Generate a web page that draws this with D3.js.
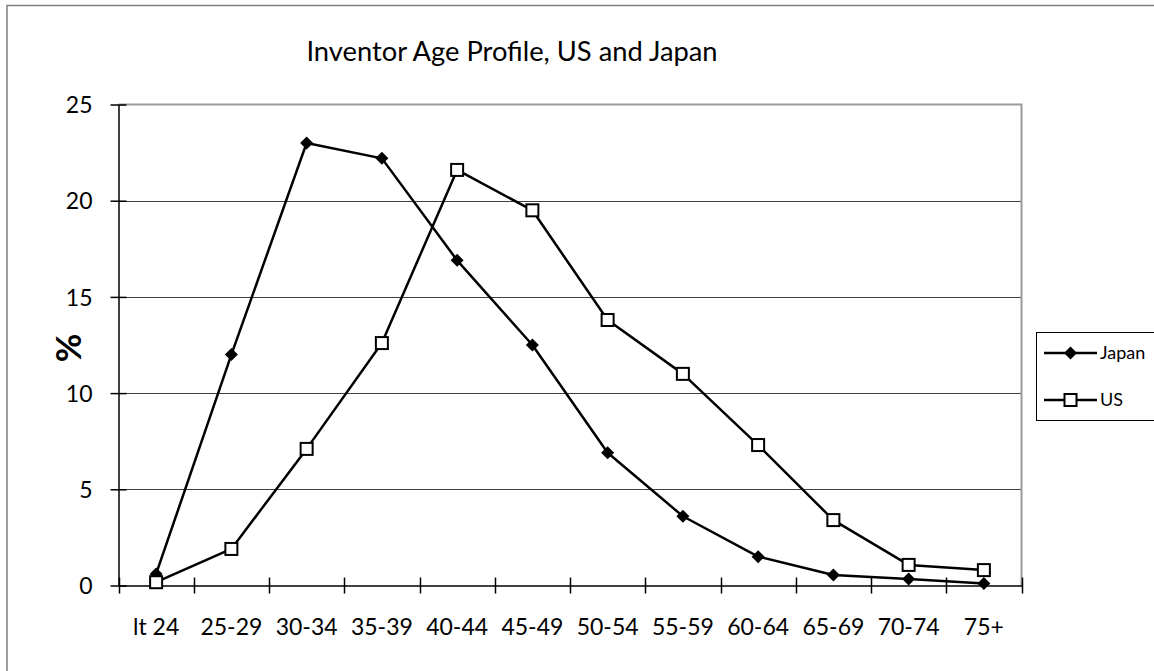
<!DOCTYPE html>
<html>
<head>
<meta charset="utf-8">
<script src="https://cdn.jsdelivr.net/npm/d3@7"></script>
<style>
  html, body { margin: 0; padding: 0; background: #fff; }
  svg { display: block; }
  text { font-family: Lato, "Open Sans", sans-serif; fill: #000; }
</style>
</head>
<body>
<svg id="chart" width="1154" height="671"></svg>
<script>
const categories = ["lt 24", "25-29", "30-34", "35-39", "40-44", "45-49", "50-54", "55-59", "60-64", "65-69", "70-74", "75+"];
const japan = [0.6, 12.0, 23.0, 22.2, 16.9, 12.5, 6.9, 3.6, 1.5, 0.55, 0.34, 0.11];
const us = [0.17, 1.9, 7.1, 12.6, 21.6, 19.5, 13.8, 11.0, 7.3, 3.4, 1.07, 0.8];
const yTicks = [0, 5, 10, 15, 20, 25];
const seriesNames = ["Japan", "US"];
const titleText = "Inventor Age Profile, US and Japan";
const yLabel = "%";

(function () {
const svg = d3.select("#chart");
const mLeft = 118.5, mRight = 1021.5, mTop = 104.5, mBottom = 585.5;

// outer chart border
svg.append("rect").attr("x", 7).attr("y", 5.5).attr("width", 1160).attr("height", 700)
  .attr("fill", "none").attr("stroke", "#7f7f7f").attr("stroke-width", 1.5);

const x = d3.scaleBand().domain(categories).range([mLeft, mRight]).padding(0);
const y = d3.scaleLinear().domain([0, 25]).range([mBottom, mTop]);

// gridlines
svg.append("g").selectAll("line").data(yTicks.filter(d => d > 0 && d < 25)).join("line")
  .attr("x1", mLeft).attr("x2", mRight)
  .attr("y1", d => Math.round(y(d)) + 0.5).attr("y2", d => Math.round(y(d)) + 0.5)
  .attr("stroke", "#404040").attr("stroke-width", 1.2);

// plot area top & right border (gray)
svg.append("path")
  .attr("d", `M${mLeft},${y(25)}H${mRight}V${mBottom}`)
  .attr("fill", "none").attr("stroke", "#9a9a9a").attr("stroke-width", 2);

// y axis
const yAxis = d3.axisLeft(y).tickValues(yTicks).tickSizeInner(8).tickSizeOuter(0).tickPadding(18);
const gy = svg.append("g").attr("transform", `translate(${mLeft},0)`).call(yAxis);
gy.select(".domain").attr("stroke", "#000").attr("stroke-width", 1.5);
gy.selectAll(".tick line").attr("x2", 8).attr("x1", -8).attr("stroke", "#000").attr("stroke-width", 1.5);
gy.selectAll(".tick text").style("font-family", "Lato, sans-serif").style("font-size", "23px").attr("x", -26).attr("dy", "0.36em");

// x axis with ticks at category boundaries
const xAxis = d3.axisBottom(x).tickSize(0).tickPadding(40);
const gx = svg.append("g").attr("transform", `translate(0,${mBottom})`).call(xAxis);
gx.select(".domain").attr("stroke", "#000").attr("stroke-width", 1.5);
gx.selectAll(".tick text").style("font-family", "Lato, sans-serif").style("font-size", "23px").attr("dy", "0.4em");
const boundaries = categories.map(c => x(c)).concat([x(categories[categories.length - 1]) + x.bandwidth()]);
gx.append("g").selectAll("line").data(boundaries).join("line")
  .attr("x1", d => Math.round(d) + 0.5).attr("x2", d => Math.round(d) + 0.5)
  .attr("y1", -8).attr("y2", 8).attr("stroke", "#000").attr("stroke-width", 1.5);

const cx = c => x(c) + x.bandwidth() / 2;
const line = d3.line().x(d => cx(d.c)).y(d => y(d.v));
const jData = categories.map((c, i) => ({ c, v: japan[i] }));
const uData = categories.map((c, i) => ({ c, v: us[i] }));

svg.append("path").datum(jData).attr("d", line).attr("fill", "none").attr("stroke", "#000").attr("stroke-width", 2.5).attr("stroke-linejoin", "round");
svg.append("path").datum(uData).attr("d", line).attr("fill", "none").attr("stroke", "#000").attr("stroke-width", 2.5).attr("stroke-linejoin", "round");

const diamond = s => `M0,${-s}L${s},0L0,${s}L${-s},0Z`;
svg.append("g").selectAll("path").data(jData).join("path")
  .attr("transform", d => `translate(${cx(d.c)},${y(d.v)})`)
  .attr("d", diamond(6.5)).attr("fill", "#000");
svg.append("g").selectAll("rect").data(uData).join("rect")
  .attr("x", d => cx(d.c) - 6).attr("y", d => y(d.v) - 6)
  .attr("width", 12).attr("height", 12)
  .attr("fill", "#fff").attr("stroke", "#000").attr("stroke-width", 2);

// title
svg.append("text").attr("x", 512).attr("y", 61).attr("text-anchor", "middle")
  .style("font-size", "27.3px").text(titleText);

// y label
svg.append("text").attr("transform", "translate(81,348) rotate(-90)").attr("text-anchor", "middle")
  .style("font-size", "35px").style("font-weight", "bold").text(yLabel);

// legend
const lg = svg.append("g");
lg.append("rect").attr("x", 1036.5).attr("y", 332.5).attr("width", 140).attr("height", 88)
  .attr("fill", "#fff").attr("stroke", "#000").attr("stroke-width", 1);
const legendRows = [353, 400];
seriesNames.forEach((name, i) => {
  const ly = legendRows[i];
  lg.append("line").attr("x1", 1044).attr("x2", 1097).attr("y1", ly).attr("y2", ly)
    .attr("stroke", "#000").attr("stroke-width", 2.5);
  if (i === 0) {
    lg.append("path").attr("transform", `translate(1070.5,${ly})`).attr("d", diamond(6.5)).attr("fill", "#000");
  } else {
    lg.append("rect").attr("x", 1064.5).attr("y", ly - 6).attr("width", 12).attr("height", 12)
      .attr("fill", "#fff").attr("stroke", "#000").attr("stroke-width", 2);
  }
  lg.append("text").attr("x", 1100).attr("y", ly).attr("dy", "0.36em")
    .style("font-size", "18px").text(name);
});
})();
</script>
</body>
</html>
